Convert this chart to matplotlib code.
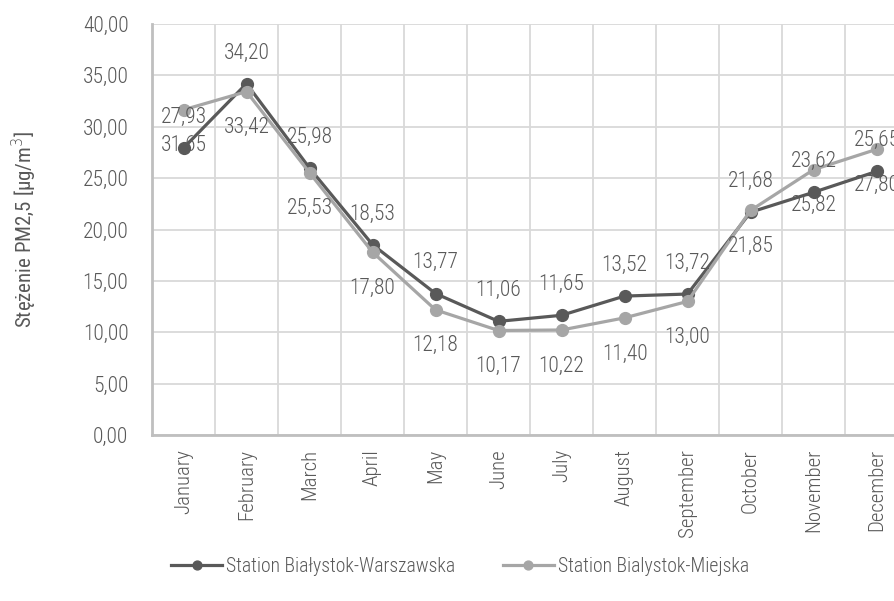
import numpy as np
import matplotlib.pyplot as plt
from matplotlib.ticker import MultipleLocator, FixedLocator

months = ['January', 'February', 'March', 'April', 'May', 'June', 'July',
          'August', 'September', 'October', 'November', 'December']
warszawska = [27.93, 34.20, 25.98, 18.53, 13.77, 11.06, 11.65, 13.52, 13.72, 21.68, 23.62, 25.65]
miejska = [31.65, 33.42, 25.53, 17.80, 12.18, 10.17, 10.22, 11.40, 13.00, 21.85, 25.82, 27.80]
names = ['Station Białystok-Warszawska', 'Station Bialystok-Miejska']

plt.rcParams['font.family'] = ['Roboto Condensed', 'Roboto', 'DejaVu Sans']
plt.rcParams['font.weight'] = 'light'
txt = '#595959'
dark = '#595959'
light = '#A6A6A6'
fs = 15

fig = plt.figure(figsize=(8.94, 6.01), dpi=100)
ax = fig.add_axes([152/894, 1 - 435/601, 756/894, 411/601])

x = np.arange(len(months))
ax.plot(x, warszawska, color=dark, lw=2.3, marker='o', ms=8.5, label=names[0], zorder=3)
ax.plot(x, miejska, color=light, lw=2.3, marker='o', ms=8.5, label=names[1], zorder=4)

def fmt(v):
    return f"{v:.2f}".replace('.', ',')

for xi, v in zip(x, warszawska):
    ax.annotate(fmt(v), (xi, v), xytext=(0, 22), textcoords='offset points',
                ha='center', va='center', fontsize=fs + 0.5, color=txt, zorder=5)
for xi, v in zip(x, miejska):
    ax.annotate(fmt(v), (xi, v), xytext=(0, -26), textcoords='offset points',
                ha='center', va='center', fontsize=fs + 0.5, color=txt, zorder=5)

ax.set_xlim(-0.5, 11.5)
ax.set_ylim(0, 40)
ax.yaxis.set_major_locator(MultipleLocator(5))
ax.set_yticklabels([fmt(v) for v in ax.get_yticks()])
ax.set_xticks(x)
ax.set_xticklabels(months, rotation=90, va='top')
ax.xaxis.set_minor_locator(FixedLocator(np.arange(0.5, 11.5, 1)))
ax.tick_params(axis='both', which='both', length=0, labelsize=fs, labelcolor=txt)
ax.tick_params(axis='y', labelsize=fs + 0.5, pad=17)
ax.tick_params(axis='x', pad=10)

ax.grid(axis='y', which='major', color='#D9D9D9', lw=1.3)
ax.grid(axis='x', which='minor', color='#D9D9D9', lw=1.3)
ax.set_axisbelow(True)
for s in ['top', 'right']:
    ax.spines[s].set_visible(False)
for s in ['left', 'bottom']:
    ax.spines[s].set_color('#BFBFBF')
    ax.spines[s].set_linewidth(2)

ax.set_ylabel('Stężenie PM2,5 [μg/m$^3$]', fontsize=fs, color=txt, labelpad=31)

fig.legend(loc='center', bbox_to_anchor=(460/894, 1 - 566/601), ncol=2, frameon=False,
           fontsize=14.2, labelcolor=txt, handlelength=2.6, columnspacing=2.4,
           handletextpad=0.2, markerscale=0.75)

fig.savefig('out.png', dpi=100)
